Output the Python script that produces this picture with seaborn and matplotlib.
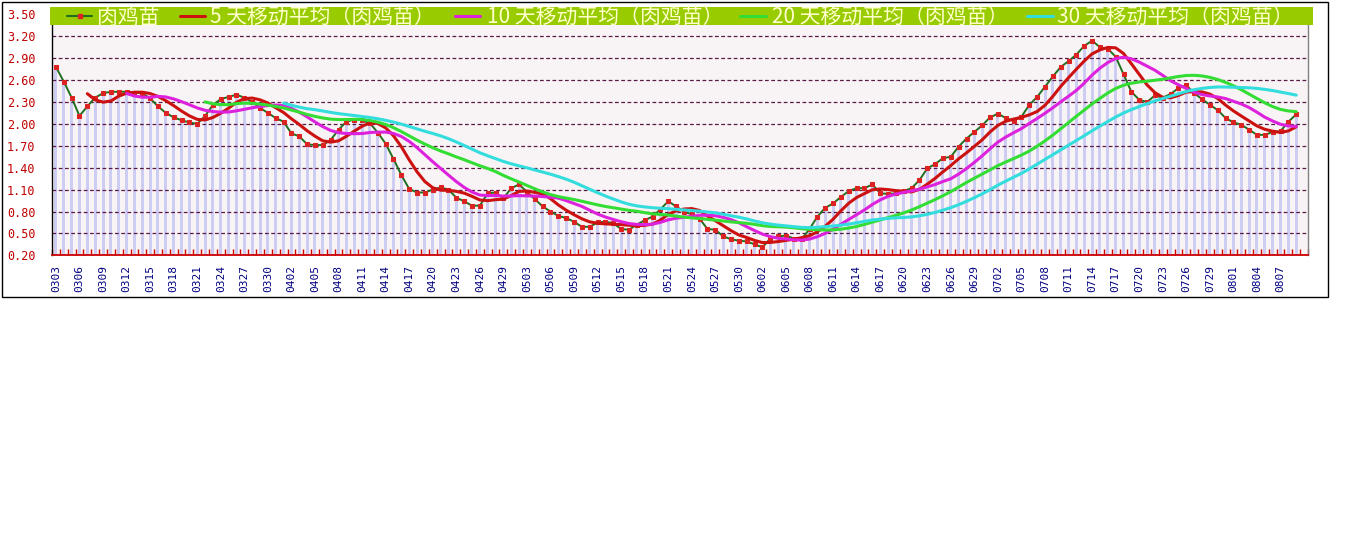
import matplotlib
matplotlib.use('Agg')
import matplotlib.pyplot as plt
from matplotlib.lines import Line2D
from matplotlib.patches import Rectangle
from matplotlib.ticker import FixedLocator, FormatStrFormatter
import numpy as np
import pandas as pd
import seaborn as sns

W, H = 1345, 541

# daily categories, one day missing around May Day
days = pd.date_range('2008-03-03', '2008-08-10').strftime('%m%d').tolist()
days.remove('0501')

# 肉鸡苗 price per day (last category has no value)
price = [
    2.78, 2.58, 2.36, 2.11, 2.24, 2.36, 2.42, 2.44, 2.44, 2.44,
    2.43, 2.42, 2.35, 2.24, 2.15, 2.09, 2.05, 2.02, 2.00, 2.11,
    2.26, 2.34, 2.37, 2.40, 2.36, 2.30, 2.22, 2.15, 2.08, 2.03,
    1.87, 1.83, 1.72, 1.71, 1.71, 1.78, 1.92, 2.03, 2.06, 2.05,
    2.01, 1.88, 1.73, 1.52, 1.30, 1.11, 1.06, 1.06, 1.10, 1.13,
    1.10, 0.99, 0.94, 0.88, 0.88, 1.05, 1.06, 0.98, 1.12, 1.17,
    1.07, 0.97, 0.87, 0.80, 0.74, 0.71, 0.66, 0.59, 0.59, 0.65,
    0.66, 0.64, 0.56, 0.55, 0.62, 0.68, 0.73, 0.83, 0.94, 0.87,
    0.80, 0.76, 0.70, 0.56, 0.55, 0.46, 0.42, 0.40, 0.39, 0.35,
    0.31, 0.43, 0.46, 0.47, 0.43, 0.42, 0.56, 0.73, 0.85, 0.91,
    1.00, 1.08, 1.12, 1.12, 1.17, 1.05, 1.04, 1.05, 1.08, 1.12,
    1.23, 1.39, 1.45, 1.53, 1.55, 1.69, 1.80, 1.89, 1.98, 2.09,
    2.14, 2.08, 2.04, 2.10, 2.26, 2.37, 2.51, 2.65, 2.78, 2.86,
    2.95, 3.07, 3.14, 3.05, 3.03, 2.92, 2.68, 2.44, 2.33, 2.30,
    2.39, 2.36, 2.41, 2.49, 2.53, 2.42, 2.34, 2.26, 2.19, 2.08,
    2.02, 1.99, 1.92, 1.85, 1.85, 1.89, 1.90, 2.03, 2.13,
]

windows = [5, 10, 20, 30]
raw_name = '肉鸡苗'
ma_names = [f'{w} 天移动平均（肉鸡苗）' for w in windows]
raw_color = '#1f6f1f'
ma_colors = ['#cc1111', '#dd22dd', '#33dd33', '#33dddd']
y_ticks = np.arange(0.2, 3.51, 0.3)

# moving-average trendlines of the price series
df = pd.DataFrame({'idx': range(len(price)), 'price': price})
parts = []
for w, name in zip(windows, ma_names):
    parts.append(pd.DataFrame({'idx': df['idx'],
                               'value': df['price'].rolling(w).mean(),
                               'series': name}))
ma_df = pd.concat(parts).dropna()

sns.set_theme(style='white')
plt.rcParams['font.family'] = ['Noto Sans CJK SC', 'DejaVu Sans']

fig = plt.figure(figsize=(W / 100, H / 100), dpi=100)
fig.patch.set_facecolor('white')
ax = fig.add_axes([52 / W, 1 - 255.3 / H, (1308 - 52) / W, (255.3 - 14.4) / H])
ax.set_facecolor('#f8f3f4')

# drop lines under each point
ax.bar(df['idx'], df['price'], width=0.38, color='#cdcdf4', linewidth=0,
       zorder=1)

sns.lineplot(data=df, x='idx', y='price', color=raw_color, lw=1.4,
             marker='s', markersize=2.4, markerfacecolor='#dd2222',
             markeredgecolor='#dd2222', ax=ax, zorder=3)
sns.lineplot(data=ma_df, x='idx', y='value', hue='series', hue_order=ma_names,
             palette=dict(zip(ma_names, ma_colors)), lw=2.2, ax=ax,
             legend=False, zorder=4)

ax.set_xlim(-0.5, len(days) - 0.5)
ax.set_ylim(0.2, 3.5)
ax.set_xlabel('')
ax.set_ylabel('')

# labels every third day, the trailing empty day gets none
ax.set_yticks(y_ticks)
ax.yaxis.set_major_formatter(FormatStrFormatter('%.2f'))
ax.set_xticks(range(0, len(price), 3))
ax.set_xticklabels(days[:len(price):3], rotation=90)
ax.xaxis.set_minor_locator(FixedLocator(np.arange(-0.5, len(days), 1)))

ax.tick_params(axis='x', which='major', length=0, pad=7,
               labelcolor='#000080', labelsize=8)
ax.tick_params(axis='x', which='minor', bottom=True, direction='in',
               length=4, width=1, color='#cc0000')
ax.tick_params(axis='y', length=0, pad=12, labelcolor='#c00000', labelsize=8.5)
for lbl in ax.get_xticklabels() + ax.get_yticklabels():
    lbl.set_fontfamily('DejaVu Sans Mono')

ax.set_axisbelow('line')
ax.grid(axis='y', linestyle=(0, (3, 2)), color='#5a1a46', lw=0.9)
ax.grid(axis='x', visible=False)

ax.spines['top'].set_visible(False)
ax.spines['bottom'].set_color('#cc0000')
ax.spines['bottom'].set_linewidth(1.3)
ax.spines['left'].set_color('black')
ax.spines['left'].set_linewidth(1)
ax.spines['right'].set_color('#808080')
ax.spines['right'].set_linewidth(1)

# outer chart frame
fig.add_artist(Rectangle((2 / W, 1 - 297 / H), 1326 / W, 295 / H, fill=False,
                         edgecolor='black', lw=1, transform=fig.transFigure))

# legend bar across the top
fig.add_artist(Rectangle((50 / W, 1 - 25 / H), (1313 - 50) / W, 18 / H,
                         facecolor='#99cc00', edgecolor='none',
                         transform=fig.transFigure, zorder=5))
ly = 1 - 16 / H
ty = 1 - 17.5 / H
legend_pos = [(67, 92, 97), (180, 205, 210), (455, 480, 487),
              (740, 766, 772), (1027, 1053, 1057)]
names = [raw_name] + ma_names
colors = [raw_color] + ma_colors
for (x0, x1, tx), name, c in zip(legend_pos, names, colors):
    fig.add_artist(Line2D([x0 / W, x1 / W], [ly, ly], color=c,
                          lw=1.5 if name == raw_name else 2.2,
                          transform=fig.transFigure, zorder=6))
    if name == raw_name:
        fig.add_artist(Line2D([(x0 + x1) / 2 / W], [ly], marker='s',
                              markersize=3, color='#dd2222',
                              transform=fig.transFigure, zorder=7))
    fig.text(tx / W, ty, name, color='#ffffcc', fontsize=15,
             ha='left', va='center', zorder=7)

fig.savefig('out.png', dpi=100)
